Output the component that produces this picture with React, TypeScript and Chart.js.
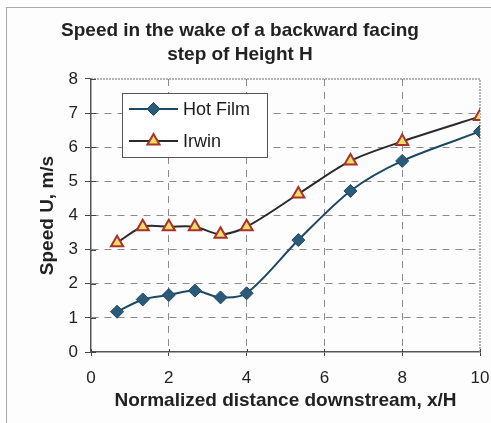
import React, { useEffect, useRef } from 'react';
import { Chart, registerables } from 'chart.js';
import { drawPoint } from 'chart.js/helpers';

Chart.register(...registerables);

const TITLE_LINES = ['Speed in the wake of a backward facing', 'step of Height H'];
const X_TITLE = 'Normalized distance downstream, x/H';
const Y_TITLE = 'Speed U, m/s';
const SERIES_NAMES = ['Hot Film', 'Irwin'];

const xPositions = [0.67, 1.33, 2, 2.67, 3.33, 4, 5.33, 6.67, 8, 10];
const hotFilm = [1.18, 1.54, 1.67, 1.8, 1.6, 1.72, 3.28, 4.72, 5.6, 6.46];
const irwin = [3.2, 3.67, 3.67, 3.67, 3.45, 3.67, 4.63, 5.6, 6.17, 6.9];

const X_MIN = 0;
const X_MAX = 10;
const X_STEP = 2;
const Y_MIN = 0;
const Y_MAX = 8;
const Y_STEP = 1;

const FONT = "'Liberation Sans', Arial, Helvetica, sans-serif";

const HOT_LINE = '#1d4862';
const HOT_FILL = '#2a5b7a';
const IRWIN_LINE = '#2a2a2a';
const IRWIN_FILL = '#f4dc6a';
const IRWIN_EDGE = '#a8322a';

const framePlugin = {
  id: 'plotFrame',
  beforeDatasetsDraw(chart: any) {
    const { ctx, chartArea } = chart;
    const { left, right, top, bottom } = chartArea;
    ctx.save();
    ctx.strokeStyle = '#9a9a9a';
    ctx.lineWidth = 1.5;
    ctx.setLineDash([2, 1]);
    ctx.beginPath();
    ctx.moveTo(left, top);
    ctx.lineTo(right, top);
    ctx.lineTo(right, bottom);
    ctx.stroke();
    ctx.setLineDash([]);
    const yScale = chart.scales.y;
    ctx.strokeStyle = '#444';
    ctx.lineWidth = 1;
    yScale.ticks.forEach((t: any) => {
      const py = Math.round(yScale.getPixelForValue(t.value)) + 0.5;
      ctx.beginPath();
      ctx.moveTo(left, py);
      ctx.lineTo(left + 5, py);
      ctx.stroke();
    });
    const xScale = chart.scales.x;
    xScale.ticks.forEach((t: any) => {
      const px = Math.round(xScale.getPixelForValue(t.value)) + 0.5;
      ctx.beginPath();
      ctx.moveTo(px, bottom);
      ctx.lineTo(px, bottom - 3);
      ctx.stroke();
    });
    ctx.restore();
  },
};

const legendBoxPlugin = {
  id: 'legendBox',
  afterDraw(chart: any) {
    const { ctx, chartArea } = chart;
    const bx = chartArea.left + 31;
    const by = chartArea.top + 14;
    const bw = 145;
    const bh = 64;
    ctx.save();
    ctx.fillStyle = '#ffffff';
    ctx.fillRect(bx, by, bw, bh);
    ctx.strokeStyle = '#555';
    ctx.lineWidth = 1;
    ctx.strokeRect(bx + 0.5, by + 0.5, bw, bh);
    chart.data.datasets.forEach((ds: any, i: number) => {
      const cy = by + 16 + i * 32;
      const x0 = bx + 7;
      const x1 = bx + 56;
      ctx.save();
      ctx.strokeStyle = ds.borderColor;
      ctx.lineWidth = ds.borderWidth;
      ctx.beginPath();
      ctx.moveTo(x0, cy);
      ctx.lineTo(x1, cy);
      ctx.stroke();
      ctx.fillStyle = ds.pointBackgroundColor;
      ctx.strokeStyle = ds.pointBorderColor;
      ctx.lineWidth = ds.pointBorderWidth;
      drawPoint(
        ctx,
        {
          pointStyle: ds.pointStyle,
          radius: ds.pointRadius,
          borderWidth: ds.pointBorderWidth,
          rotation: 0,
        } as any,
        (x0 + x1) / 2,
        cy
      );
      ctx.fillStyle = '#1a1a1a';
      ctx.font = `18px ${FONT}`;
      ctx.textBaseline = 'middle';
      ctx.textAlign = 'left';
      ctx.fillText(ds.label, x1 + 5, cy + 1);
      ctx.restore();
    });
    ctx.restore();
  },
};

export default function App() {
  const canvasRef = useRef<HTMLCanvasElement | null>(null);

  useEffect(() => {
    const canvas = canvasRef.current;
    if (!canvas) return;
    const chart = new Chart(canvas, {
      type: 'line',
      data: {
        datasets: [
          {
            label: SERIES_NAMES[0],
            data: xPositions.map((x, i) => ({ x, y: hotFilm[i] })),
            borderColor: HOT_LINE,
            borderWidth: 2,
            pointStyle: 'rectRot',
            pointRadius: 6.5,
            pointBackgroundColor: HOT_FILL,
            pointBorderColor: HOT_LINE,
            pointBorderWidth: 1,
            tension: 0.3,
            fill: false,
          },
          {
            label: SERIES_NAMES[1],
            data: xPositions.map((x, i) => ({ x, y: irwin[i] })),
            borderColor: IRWIN_LINE,
            borderWidth: 2,
            pointStyle: 'triangle',
            pointRadius: 7,
            pointBackgroundColor: IRWIN_FILL,
            pointBorderColor: IRWIN_EDGE,
            pointBorderWidth: 2,
            tension: 0.3,
            fill: false,
          },
        ],
      },
      options: {
        responsive: false,
        animation: false,
        devicePixelRatio: 1,
        layout: { padding: { left: 0, right: 11, top: 0, bottom: 0 } },
        plugins: {
          legend: { display: false },
          tooltip: { enabled: false },
          title: {
            display: true,
            text: TITLE_LINES,
            color: '#222',
            font: { size: 19, weight: 'bold', family: FONT, lineHeight: 1.263 },
            padding: { top: 19, bottom: 12 },
          },
        },
        scales: {
          x: {
            type: 'linear',
            min: X_MIN,
            max: X_MAX,
            ticks: {
              stepSize: X_STEP,
              color: '#222',
              font: { size: 17, family: FONT },
              padding: 12,
              maxRotation: 0,
            },
            grid: {
              color: (c: any) =>
                c.tick && (c.tick.value === X_MIN || c.tick.value === X_MAX) ? 'rgba(0,0,0,0)' : '#8a8a8a',
              lineWidth: 1,
              tickLength: 4,
              tickColor: '#444',
            },
            border: { display: true, color: '#555', width: 1.5, dash: [7, 6] },
            title: {
              display: true,
              text: X_TITLE,
              color: '#222',
              font: { size: 19, weight: 'bold', family: FONT },
              padding: { top: 0, bottom: 10.5 },
            },
            afterFit: (s: any) => {
              s.height = 71;
              s.paddingLeft = 0;
              s.paddingRight = 0;
            },
          },
          y: {
            type: 'linear',
            min: Y_MIN,
            max: Y_MAX,
            ticks: {
              stepSize: Y_STEP,
              color: '#222',
              font: { size: 17, family: FONT },
              padding: 7,
            },
            grid: {
              color: (c: any) =>
                c.tick && (c.tick.value === Y_MIN || c.tick.value === Y_MAX) ? 'rgba(0,0,0,0)' : '#8a8a8a',
              lineWidth: 1,
              tickLength: 6,
              tickColor: '#444',
            },
            border: { display: true, color: '#555', width: 1.5, dash: [7, 6] },
            title: {
              display: true,
              text: Y_TITLE,
              color: '#222',
              font: { size: 19, weight: 'bold', family: FONT },
              padding: { top: 36, bottom: 0 },
            },
            afterFit: (s: any) => {
              s.width = 91;
              s.paddingTop = 0;
              s.paddingBottom = 0;
            },
          },
        },
      } as any,
      plugins: [framePlugin, legendBoxPlugin],
    });
    return () => chart.destroy();
  }, []);

  return (
    <div
      style={{
        position: 'fixed',
        left: 0,
        top: 0,
        width: 491,
        height: 423,
        background: '#fdfdfd',
        overflow: 'hidden',
      }}
    >
      <div
        style={{
          position: 'absolute',
          left: 6,
          top: 7,
          width: 520,
          height: 460,
          borderLeft: '1.5px solid #a8a8a8',
          borderTop: '1.5px solid #a8a8a8',
        }}
      />
      <canvas ref={canvasRef} width={491} height={423} style={{ position: 'absolute', left: 0, top: 0 }} />
    </div>
  );
}
